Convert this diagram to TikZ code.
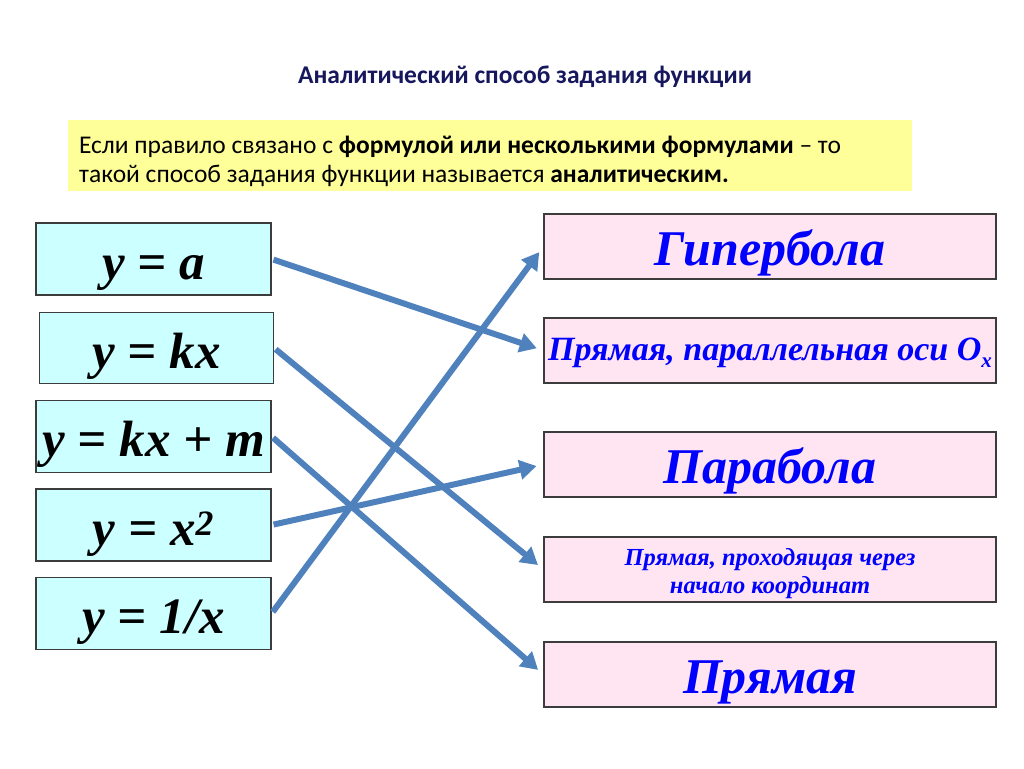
\documentclass[tikz,border=0pt]{standalone}
\usepackage{fontspec}
\setmainfont{Liberation Serif}
\newfontfamily\calibri{Carlito}
\usetikzlibrary{arrows.meta}
\definecolor{linkblue}{RGB}{79,129,189}
\definecolor{eqfill}{RGB}{204,255,255}
\definecolor{namefill}{RGB}{255,228,242}
\definecolor{notefill}{RGB}{255,255,153}
\definecolor{edgegray}{RGB}{60,60,60}
\definecolor{titleblue}{RGB}{23,23,94}

\begin{document}
\begin{tikzpicture}[x=1pt,y=-1pt,
  eqbox/.style={draw=edgegray,line width=1.2pt,fill=eqfill,inner sep=0pt,
    minimum width=235pt,minimum height=72pt,text height=40pt,text depth=0pt,
    font=\fontsize{51}{53}\selectfont\bfseries\itshape},
  namebox/.style={draw=edgegray,line width=1.2pt,fill=namefill,inner sep=0pt,
    minimum width=452pt,minimum height=65pt,text=blue,align=center},
  bigname/.style={namebox,text height=37pt,text depth=0pt,
    font=\fontsize{50}{52}\selectfont\bfseries\itshape},
  notetxt/.style={anchor=base west,inner sep=0pt,font=\calibri\fontsize{25.5}{29}\selectfont},
  link/.style={draw=linkblue,line width=6pt,
    -{Triangle[length=17pt,width=19pt]},shorten <=2pt,shorten >=7pt}]
  \useasboundingbox (0,0) rectangle (1024,768);
  % title and definition
  \node[anchor=base,inner sep=0pt,text=titleblue,font=\calibri\bfseries\fontsize{25.5}{28}\selectfont] at (525,83.3) (title) {Аналитический способ задания функции};
  \node[fill=notefill,minimum width=844pt,minimum height=71pt,inner sep=0pt] at (490,155.5) (note) {};
  \node[notetxt] at (79,153.3) (note1) {Если правило связано с \textbf{формулой или несколькими формулами} – то};
  \node[notetxt] at (79,182.3) (note2) {такой способ задания функции называется \textbf{аналитическим.}};
  % formulas
  \node[eqbox] at (153.5,259) (e1) {y = a};
  \node[eqbox,minimum width=234pt,minimum height=71pt] at (156.5,348) (e2) {y = kx};
  \node[eqbox] at (153.5,436.5) (e3) {y = kx + m};
  \node[eqbox] at (153.5,525) (e4) {y = x\textsuperscript{2}};
  \node[eqbox] at (153.5,613.5) (e5) {y = 1/x};
  % graphs
  \node[bigname] at (770,246.5) (r1) {Гипербола};
  \node[namebox,text height=20pt,text depth=0pt,font=\fontsize{34}{36}\selectfont\bfseries\itshape] at (770,350.5) (r2) {Прямая, параллельная оси O\raisebox{-7pt}{\fontsize{21}{23}\selectfont x}};
  \node[bigname] at (770,464.5) (r3) {Парабола};
  \node[namebox,text height=47pt,text depth=0pt,font=\fontsize{24.5}{28}\selectfont\bfseries\itshape] at (770,569.5) (r4) {Прямая, проходящая через\\начало координат};
  \node[bigname] at (770,674.5) (r5) {Прямая};
  \foreach \a/\b in {e1/r2,e2/r4,e3/r5,e4/r3,e5/r1} \draw[link] (\a.east) -- (\b.west);
\end{tikzpicture}
\end{document}
